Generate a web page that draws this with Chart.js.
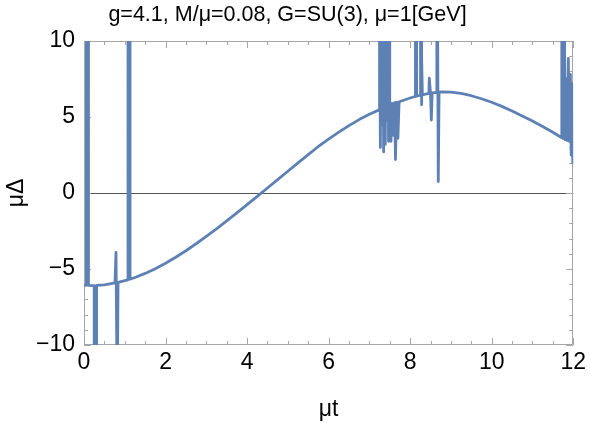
<!DOCTYPE html>
<html>
<head>
<meta charset="utf-8">
<script src="https://cdn.jsdelivr.net/npm/chart.js@4/dist/chart.umd.min.js"></script>
<style>
  html, body { margin: 0; padding: 0; background: #ffffff; }
  #wrap { width: 590px; height: 423px; position: relative; }
</style>
</head>
<body>
<div id="wrap"><canvas id="c" width="590" height="423"></canvas></div>
<script>
// ---- data ----
const titleText = "g=4.1, M/\u03bc=0.08, G=SU(3), \u03bc=1[GeV]";
const xAxisLabel = "\u03bct";
const yAxisLabel = "\u03bc\u0394";
const xTickLabels = [0, 2, 4, 6, 8, 10, 12];
const yTickLabels = [-10, -5, 0, 5, 10];

// μt values (with the numerical spikes of the solution)
const tValues = [
  0.00, 0.06, 0.06, 0.11, 0.11, 0.25, 0.25, 0.31, 0.31, 0.50,
  0.76, 0.785, 0.815, 0.835, 1.00, 1.08, 1.08, 1.13, 1.13, 1.25,
  1.50, 1.75, 2.00, 2.25, 2.50, 2.75, 3.00, 3.25, 3.50, 3.75,
  4.00, 4.25, 4.50, 4.75, 5.00, 5.25, 5.50, 5.75, 6.00, 6.25,
  6.50, 6.75, 7.00, 7.24,
  7.25, 7.27, 7.29, 7.31, 7.33, 7.35, 7.37, 7.39, 7.41, 7.43,
  7.45, 7.47, 7.49, 7.50, 7.53, 7.56, 7.59, 7.62, 7.64, 7.67,
  7.70, 7.73, 7.75, 8.00, 8.12, 8.13, 8.15, 8.16, 8.25, 8.255,
  8.27, 8.275, 8.29, 8.30, 8.46, 8.47, 8.50, 8.52, 8.54, 8.65,
  8.655, 8.67, 8.69, 8.71, 8.75, 9.00, 9.25, 9.50, 9.75, 10.00,
  10.25, 10.50, 10.75, 11.00, 11.25, 11.50, 11.71,
  11.72, 11.745, 11.75, 11.78, 11.80, 11.83, 11.85, 11.88, 11.90,
  11.93, 11.95, 11.97, 11.99, 12.00
];
// μΔ values (values beyond ±10 are off the plotted range)
const deltaValues = [
  -6.06, -6.07, 14, 14, -6.08, -6.09, -14, -14, -6.08, -6.04,
  -5.92, -3.90, -14, -5.88, -5.77, -5.71, 14, 14, -5.67, -5.56,
  -5.29, -4.98, -4.62, -4.23, -3.80, -3.34, -2.86, -2.36, -1.84, -1.31,
  -0.77, -0.22, 0.33, 0.88, 1.43, 1.98, 2.53, 3.06, 3.55, 4.00,
  4.43, 4.83, 5.18, 5.47,
  14, 3.0, 14, 4.5, 14, 2.7, 14, 3.2, 14, 4.8,
  14, 3.4, 14, 5.0, 3.4, 5.9, 3.8, 5.95, 2.2, 5.98,
  3.6, 6.0, 6.02, 6.25, 6.35, 14, 14, 6.37, 6.43, 14,
  14, 5.8, 8.9, 6.46, 6.55, 7.55, 6.56, 4.8, 6.58, 6.62,
  14, 14, 0.75, 6.64, 6.65, 6.63, 6.55, 6.40, 6.20, 5.97,
  5.70, 5.40, 5.07, 4.73, 4.38, 4.00, 3.65,
  14, 14, 3.58, 14, 3.50, 7.5, 3.45, 8.85, 3.40,
  7.8, 2.5, 7.2, 2.0, 3.10
];

// ---- styling ----
const LINE_COLOR = '#5e81b5';
const FRAME_COLOR = '#a6a6a6';
const FONT = '"Liberation Sans", Arial, Helvetica, sans-serif';

const points = tValues.map((t, i) => ({ x: t, y: deltaValues[i] }));

const frameTicks = {
  id: 'frameTicks',
  beforeDatasetsDraw(chart) {
    const { ctx, chartArea: a, scales: { x, y } } = chart;
    ctx.save();
    ctx.strokeStyle = FRAME_COLOR;
    ctx.lineWidth = 1;
    ctx.beginPath();
    ctx.rect(Math.round(a.left) + 0.5, Math.round(a.top) + 0.5,
             Math.round(a.right - a.left) - 1, Math.round(a.bottom - a.top) - 1);
    ctx.stroke();
    const MAJ = 7, MIN = 4;
    ctx.beginPath();
    for (let k = 0; k <= 24; k++) {
      const v = k * 0.5;
      const len = (k % 4 === 0) ? MAJ : MIN;
      const px = Math.round(x.getPixelForValue(v)) + 0.5;
      ctx.moveTo(px, a.bottom); ctx.lineTo(px, a.bottom - len);
      ctx.moveTo(px, a.top); ctx.lineTo(px, a.top + len);
    }
    for (let k = -10; k <= 10; k++) {
      const len = (k % 5 === 0) ? MAJ : MIN;
      const py = Math.round(y.getPixelForValue(k)) + 0.5;
      ctx.moveTo(a.left, py); ctx.lineTo(a.left + len, py);
      ctx.moveTo(a.right, py); ctx.lineTo(a.right - len, py);
    }
    ctx.stroke();
    ctx.restore();
  }
};

new Chart(document.getElementById('c'), {
  type: 'scatter',
  data: {
    datasets: [{
      data: points,
      showLine: true,
      borderColor: LINE_COLOR,
      backgroundColor: LINE_COLOR,
      borderWidth: 2.8,
      borderJoinStyle: 'round',
      borderCapStyle: 'round',
      pointRadius: 0,
      pointHoverRadius: 0,
      tension: 0,
      clip: 0
    }]
  },
  options: {
    responsive: false,
    animation: false,
    events: [],
    layout: { padding: { left: 0, right: 15, top: 0, bottom: 0 } },
    plugins: {
      legend: { display: false },
      tooltip: { enabled: false },
      title: {
        display: true,
        text: titleText,
        color: '#000',
        font: { family: FONT, size: 21.5, weight: 'normal' },
        padding: { top: 2, bottom: 13.2 }
      }
    },
    scales: {
      x: {
        type: 'linear',
        min: 0, max: 12,
        afterBuildTicks: s => { s.ticks = xTickLabels.map(v => ({ value: v })); },
        afterFit: s => { s.height = 78; },
        ticks: {
          color: '#000',
          padding: 4,
          maxRotation: 0,
          autoSkip: false,
          font: { family: FONT, size: 23 },
          callback: v => String(v).replace('-', '\u2212')
        },
        grid: { display: false, drawTicks: false },
        border: { display: false },
        title: {
          display: true,
          text: xAxisLabel,
          color: '#000',
          font: { family: FONT, size: 23 },
          padding: { top: 0, bottom: 0 }
        }
      },
      y: {
        type: 'linear',
        min: -10, max: 10,
        afterBuildTicks: s => { s.ticks = yTickLabels.map(v => ({ value: v })); },
        afterFit: s => { s.width = 84; },
        ticks: {
          color: '#000',
          padding: 9,
          autoSkip: false,
          font: { family: FONT, size: 23 },
          callback: v => String(v).replace('-', '\u2212')
        },
        grid: {
          display: true,
          drawTicks: false,
          lineWidth: 1,
          color: c => (c.tick && c.tick.value === 0) ? '#555555' : 'rgba(0,0,0,0)'
        },
        border: { display: false },
        title: {
          display: true,
          text: yAxisLabel,
          color: '#000',
          font: { family: FONT, size: 23 },
          padding: { top: 3, bottom: 0 }
        }
      }
    }
  },
  plugins: [frameTicks]
});
</script>
</body>
</html>
